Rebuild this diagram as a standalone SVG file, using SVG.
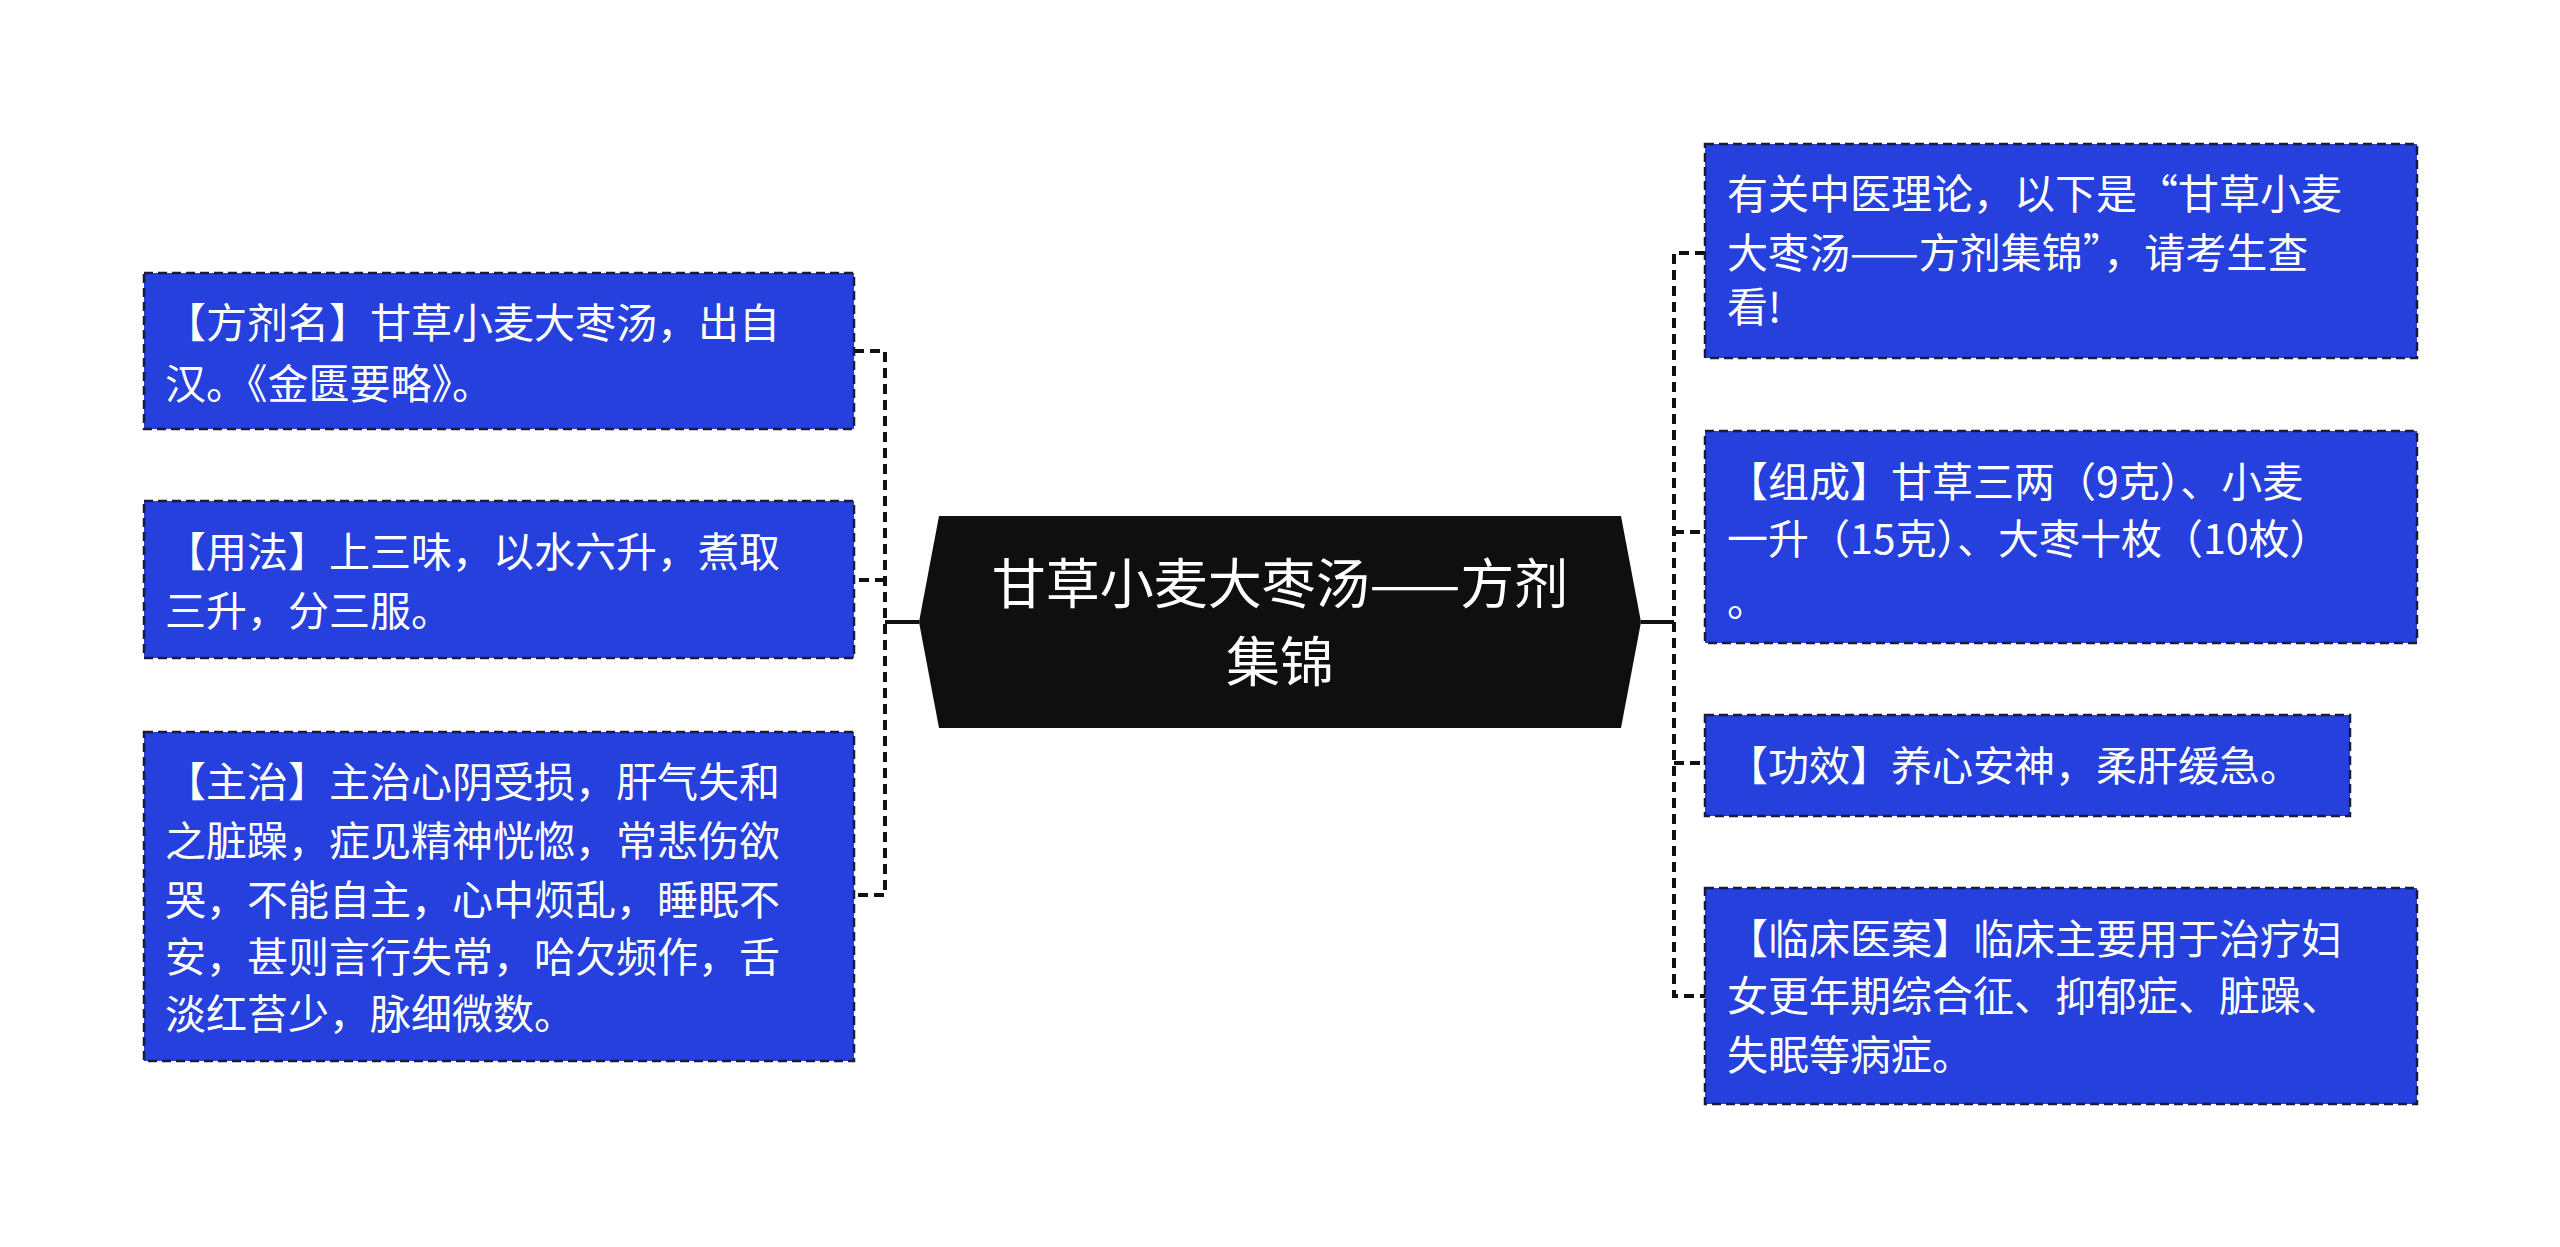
<svg xmlns="http://www.w3.org/2000/svg" width="2560" height="1247" viewBox="0 0 2560 1247">
<style>
.b{fill:#2540dc;stroke:#1a1a3a;stroke-width:2.5;stroke-dasharray:9 5}
.t{font-family:"Noto Sans CJK SC",sans-serif;font-size:41px;fill:#fff}
.c{stroke:#111;stroke-width:4;fill:none;stroke-dasharray:10 6}
</style>
<rect width="2560" height="1247" fill="#fff"/>
<g id="connectors">
<line x1="885" y1="622" x2="919" y2="622" stroke="#111" stroke-width="4"/>
<path class="c" d="M854 351H885V895H854M885 580H854"/>
<line x1="1641" y1="622" x2="1674" y2="622" stroke="#111" stroke-width="4"/>
<path class="c" d="M1705 253H1674V996H1705M1674 532H1705M1674 763H1705"/>
</g>
<g id="center">
<polygon points="939,516 1621,516 1641,622 1621,728 939,728 919,622" fill="#0f0f0f"/>
<text x="1280" y="604" text-anchor="middle" font-family="Noto Sans CJK SC,sans-serif" font-size="54" fill="#fff">甘草小麦大枣汤——方剂</text>
<text x="1280" y="682" text-anchor="middle" font-family="Noto Sans CJK SC,sans-serif" font-size="54" fill="#fff">集锦</text>
</g>
<g id="l1"><rect class="b" x="144" y="273" width="710" height="156"/>
<text class="t" x="165" y="338">【方剂名】甘草小麦大枣汤，出自</text><text class="t" x="165" y="399">汉。《金匮要略》。</text></g>
<g id="l2"><rect class="b" x="144" y="501" width="710" height="157"/>
<text class="t" x="165" y="567">【用法】上三味，以水六升，煮取</text><text class="t" x="165" y="626">三升，分三服。</text></g>
<g id="l3"><rect class="b" x="144" y="732" width="710" height="329"/>
<text class="t" x="165" y="797">【主治】主治心阴受损，肝气失和</text>
<text class="t" x="165" y="856">之脏躁，症见精神恍惚，常悲伤欲</text>
<text class="t" x="165" y="915">哭，不能自主，心中烦乱，睡眠不</text>
<text class="t" x="165" y="972">安，甚则言行失常，哈欠频作，舌</text>
<text class="t" x="165" y="1029">淡红苔少，脉细微数。</text></g>
<g id="r1"><rect class="b" x="1705" y="144" width="712" height="214"/>
<text class="t" x="1727" y="209">有关中医理论，以下是“甘草小麦</text>
<text class="t" x="1727" y="268">大枣汤——方剂集锦”，请考生查</text>
<text class="t" x="1727" y="322">看!</text></g>
<g id="r2"><rect class="b" x="1705" y="431" width="712" height="212"/>
<text class="t" x="1727" y="497">【组成】甘草三两（9克）、小麦</text>
<text class="t" x="1727" y="554">一升（15克）、大枣十枚（10枚）</text>
<text class="t" x="1727" y="616">。</text></g>
<g id="r3"><rect class="b" x="1705" y="715" width="645" height="101"/>
<text class="t" x="1727" y="781">【功效】养心安神，柔肝缓急。</text></g>
<g id="r4"><rect class="b" x="1705" y="888" width="712" height="216"/>
<text class="t" x="1727" y="954">【临床医案】临床主要用于治疗妇</text>
<text class="t" x="1727" y="1011">女更年期综合征、抑郁症、脏躁、</text>
<text class="t" x="1727" y="1070">失眠等病症。</text></g>
</svg>
